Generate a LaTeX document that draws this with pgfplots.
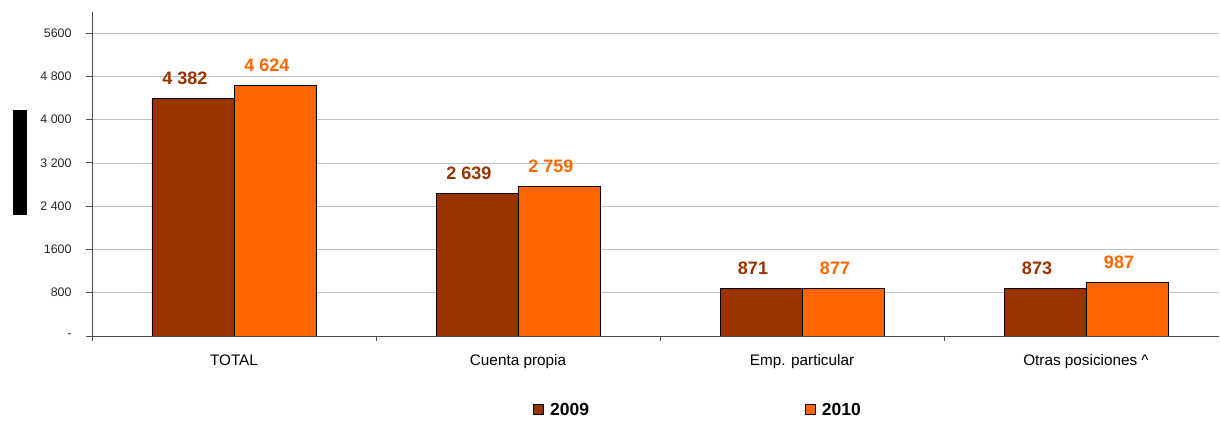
\documentclass[border=0pt]{standalone}
\usepackage{pgfplots}
\pgfplotsset{compat=1.18}
\usepackage{fontspec}
\setmainfont{Liberation Sans}
\definecolor{c09}{HTML}{993300}
\definecolor{c10}{HTML}{FF6600}
\begin{document}
\begin{tikzpicture}
\begin{axis}[
  at={(0pt,0pt)}, anchor=south west,
  x=284pt, y=0.054107pt,
  xmin=-0.5, xmax=3.47, ymin=0, ymax=5988,
  axis lines=left,
  axis line style={-, draw=black!70, line width=0.8pt},
  ybar=0pt, bar width=82pt,
  tick align=outside,
  xtick={0,1,2,3},
  xticklabels={TOTAL, Cuenta propia, Emp. particular, Otras posiciones \textasciicircum},
  xtick style={draw=none},
  extra x ticks={-0.5,0.5,1.5,2.5},
  extra x tick labels={},
  extra x tick style={xtick style={draw=black!70, line width=0.8pt}, major tick length=5pt},
  ytick={0,800,1600,2400,3200,4000,4800,5600},
  yticklabels={-,800,1600,2 400,3 200,4 000,4 800,5600},
  ytick style={draw=black!70, line width=0.8pt},
  major tick length=6pt,
  ymajorgrids, grid style={draw=black!25, line width=0.6pt},
  yticklabel style={font=\fontsize{12.4}{14}\selectfont, text=black!85, xshift=-11pt},
  xticklabel style={font=\fontsize{15.3}{18}\selectfont, text=black, yshift=-9pt},
  legend columns=2,
  legend style={at={(0.5375,-0.228)}, anchor=center, draw=none,
    font=\bfseries\fontsize{17.5}{20}\selectfont,
    /tikz/every odd column/.append style={column sep=4pt},
    /tikz/every even column/.append style={column sep=214pt}},
]
\addplot[fill=c09, draw=black, line width=0.8pt,
  nodes near coords, point meta=explicit symbolic,
  every node near coord/.append style={text=c09, font=\bfseries\fontsize{18}{20}\selectfont, xshift=-8pt, yshift=10pt},
  legend image code/.code={\draw[fill=c09,draw=black,line width=0.8pt] (0pt,-5pt) rectangle (10pt,5pt);}]
  coordinates {(0,4382)[4 382] (1,2639)[2 639] (2,871)[871] (3,873)[873]};
\addlegendentry{2009}
\addplot[fill=c10, draw=black, line width=0.8pt,
  nodes near coords, point meta=explicit symbolic,
  every node near coord/.append style={text=c10, font=\bfseries\fontsize{18}{20}\selectfont, xshift=-8pt, yshift=10pt},
  legend image code/.code={\draw[fill=c10,draw=black,line width=0.8pt] (0pt,-5pt) rectangle (10pt,5pt);}]
  coordinates {(0,4624)[4 624] (1,2759)[2 759] (2,877)[877] (3,987)[987]};
\addlegendentry{2010}
\end{axis}
\fill[black] (-79pt,121pt) rectangle (-65pt,226pt);
\pgfresetboundingbox
\path (-92pt,-86pt) rectangle (1128pt,336pt);
\end{tikzpicture}
\end{document}
